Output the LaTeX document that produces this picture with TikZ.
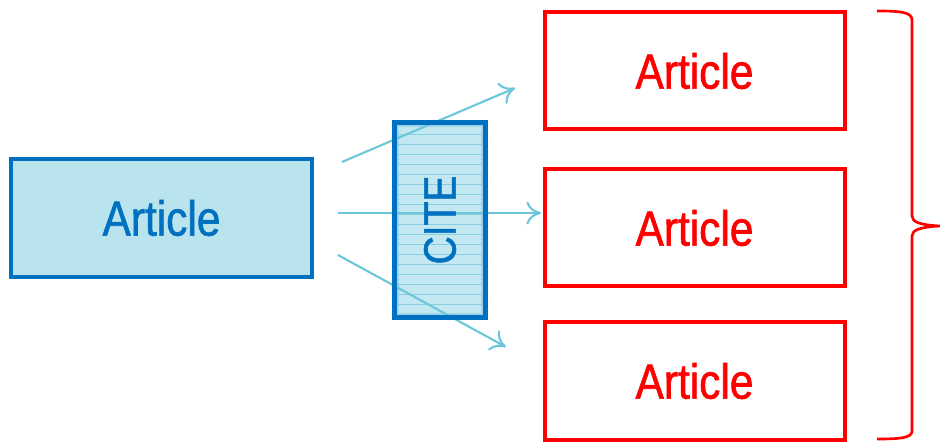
\documentclass[tikz,border=0pt]{standalone}
\usepackage{fontspec}
\setmainfont{Liberation Sans}[FakeStretch=0.86]
\newfontfamily\artfont{Liberation Sans}[FakeStretch=0.86, FakeBold=1.2]
\usetikzlibrary{arrows.meta}
\definecolor{bblue}{HTML}{0070C0}
\definecolor{lfill}{HTML}{B9E4EE}
\definecolor{arr}{HTML}{6DC7DA}
\definecolor{hline}{HTML}{86CFDF}
\definecolor{rred}{HTML}{FF0000}
\tikzset{
  srcbox/.style={draw=bblue, fill=lfill, line width=3.6pt, minimum width=301*0.75pt, minimum height=118*0.75pt, inner sep=0pt, text=bblue, font=\artfont\fontsize{37}{40}\selectfont},
  citebox/.style={draw=bblue, line width=3.6pt, minimum width=86*0.75pt, minimum height=190*0.75pt, inner sep=0pt},
  tgtbox/.style={draw=rred, line width=3pt, minimum width=300*0.75pt, minimum height=117*0.75pt, inner sep=0pt, text=rred, font=\artfont\fontsize{37}{40}\selectfont},
  citearrow/.style={draw=arr, line width=1.6pt, -{To[length=11pt,width=17pt,line width=1.6pt]}},
  bracepath/.style={draw=rred, line width=2pt, line join=round}
}
\begin{document}
\begin{tikzpicture}[x=0.75pt,y=-0.75pt]
\useasboundingbox (0,0) rectangle (940,442);
% source article
\node[srcbox] (src) at (161.5,218) {Article};
% target articles
\node[tgtbox] (t1) at (694.5,71) {Article};
\node[tgtbox] (t2) at (694.5,228) {Article};
\node[tgtbox] (t3) at (694.5,381) {Article};
% arrow end points
\coordinate (s1) at (342,162);
\coordinate (s2) at (338,213);
\coordinate (s3) at (338,255);
\coordinate (e1) at (515,88);
\coordinate (e2) at (541,213);
\coordinate (e3) at (506,347);
% cite box with lines
\node[citebox] (cite) at (440,220) {};
\fill[lfill, opacity=0.85] (cite.south west) rectangle (cite.north east);
\foreach \yy in {134,144,...,306} {
  \draw[hline, line width=0.6pt] (398,\yy) -- (482,\yy);
}
\draw[citearrow] (s1) -- (e1);
\draw[citearrow] (s2) -- (e2);
\draw[citearrow] (s3) -- (e3);
\draw[draw=bblue, line width=3.6pt] (cite.south west) rectangle (cite.north east);
\node[text=bblue, rotate=90, font=\artfont\fontsize{34}{38}\selectfont] (citelbl) at (cite.center) {CITE};
% brace
\coordinate (btop) at (877,11);
\coordinate (btip) at (940,226);
\coordinate (bbot) at (877,439);
\draw[bracepath] (btop) .. controls (900,11) and (912,12) .. (912,20)
  -- (912,216) .. controls (912,222) and (920,225) .. (btip)
  .. controls (920,227) and (912,230) .. (912,236)
  -- (912,431) .. controls (912,438) and (900,439) .. (bbot);
\end{tikzpicture}
\end{document}
